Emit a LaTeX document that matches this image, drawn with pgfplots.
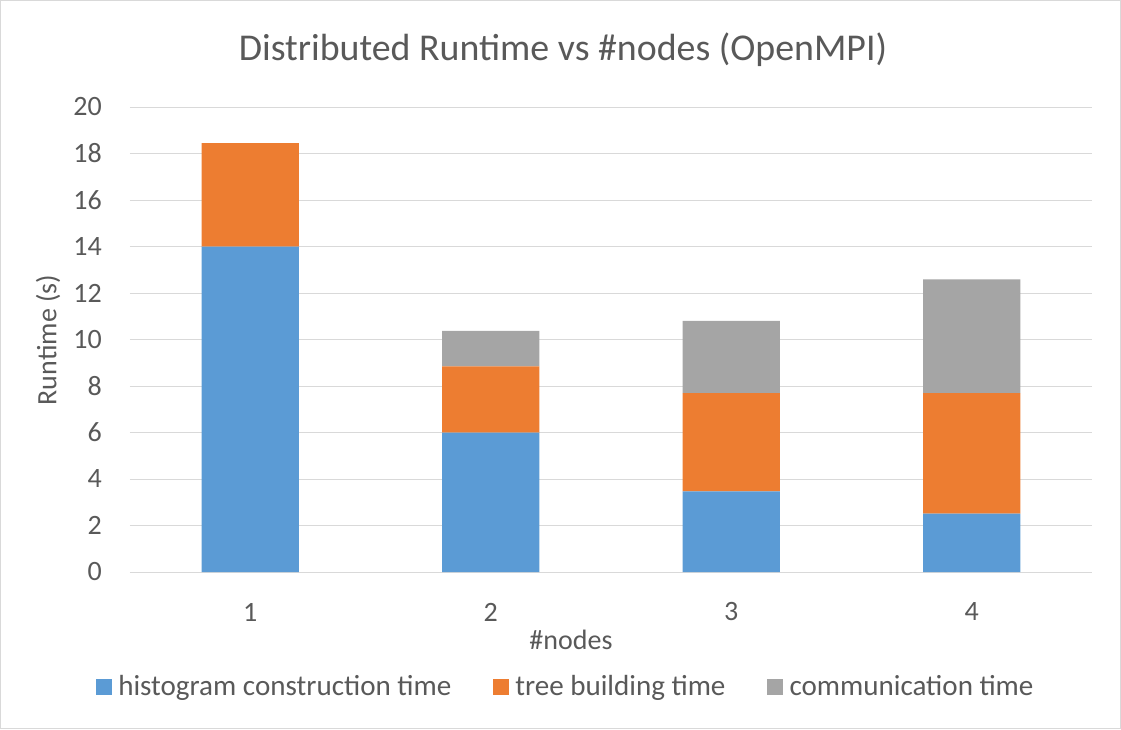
\documentclass[border=0pt]{standalone}
\usepackage{fontspec}
\setmainfont{Carlito}
\usepackage{pgfplots}
\pgfplotsset{compat=1.18}
\definecolor{cblue}{HTML}{5B9BD5}
\definecolor{corange}{HTML}{ED7D31}
\definecolor{cgray}{HTML}{A5A5A5}
\definecolor{ctext}{HTML}{595959}
\definecolor{cgrid}{HTML}{D9D9D9}
\newcommand{\tickfont}{\fontsize{21pt}{25pt}\selectfont}
\newcommand{\legfont}{\fontsize{21.8pt}{26pt}\selectfont}
\newcommand{\titlefont}{\fontsize{28.4pt}{34pt}\selectfont}

\begin{document}
\begin{tikzpicture}
% chart border
\draw[cgrid, line width=0.75pt] (-97.125pt,-117.375pt) rectangle (742.875pt,428.625pt);
\begin{axis}[
  at={(0pt,0pt)}, anchor=south west,
  scale only axis, width=721.5pt, height=348.75pt,
  ybar stacked, bar width=0.404,
  xmin=0.5, xmax=4.5, ymin=0, ymax=20,
  xtick={1,2,3,4}, ytick={0,2,...,20},
  major tick length=0pt,
  axis line style={draw=none},
  ymajorgrids, major grid style={cgrid, line width=0.75pt},
  /pgf/number format/assume math mode=true,
  tick label style={font=\tickfont, text=ctext},
  yticklabel style={inner sep=0pt, anchor=east, xshift=-21pt},
  xticklabel style={inner sep=0pt, anchor=center, yshift=-30pt},
  title={Distributed Runtime vs \#nodes (OpenMPI)},
  title style={font=\titlefont, text=ctext, at={(axis description cs:0.4501,1.1065)}, anchor=center, inner sep=0pt},
  xlabel={\#nodes},
  xlabel style={font=\tickfont, text=ctext, at={(axis description cs:0.4584,-0.146)}, anchor=center, inner sep=0pt},
  ylabel={Runtime (s)},
  ylabel style={font=\tickfont, text=ctext, at={(axis description cs:-0.0852,0.4989)}, anchor=center, rotate=0, inner sep=0pt},
  legend columns=3,
  legend style={at={(axis description cs:0.4517,-0.247)}, anchor=center, draw=none,
    font=\legfont, text=ctext, nodes={inner sep=0pt},
    /tikz/every odd column/.append style={column sep=5pt},
    /tikz/every even column/.append style={column sep=31pt}},
  legend cell align=left,
  legend image code/.code={\fill[#1] (0pt,-6pt) rectangle (12pt,6pt);},
]
\addplot[fill=cblue, draw=none] coordinates {(1,14.0) (2,6.0) (3,3.47) (4,2.51)};
\addplot[fill=corange, draw=none] coordinates {(1,4.45) (2,2.84) (3,4.22) (4,5.18)};
\addplot[fill=cgray, draw=none] coordinates {(1,0) (2,1.53) (3,3.11) (4,4.90)};
\legend{histogram construction time, tree building time, communication time}
\end{axis}
\end{tikzpicture}
\end{document}
